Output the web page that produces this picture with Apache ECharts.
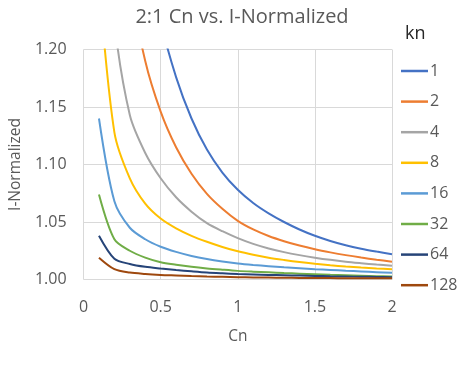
<!DOCTYPE html>
<html>
<head>
<meta charset="utf-8">
<script src="https://cdn.jsdelivr.net/npm/echarts@6/dist/echarts.min.js"></script>
<style>
html,body{margin:0;padding:0;background:#fff;}
#chart{width:462px;height:366px;}
</style>
</head>
<body>
<div id="chart"></div>
<script>
var cn = [0.1,0.2,0.3,0.4,0.5,0.6,0.7,0.8,0.9,1.0,1.1,1.2,1.3,1.4,1.5,1.6,1.7,1.8,1.9,2.0];
var seriesNames = ['1','2','4','8','16','32','64','128'];
var k1   = [2.10,1.62,1.42,1.30,1.225,1.176,1.140,1.113,1.093,1.078,1.0665,1.0575,1.050,1.0435,1.038,1.0335,1.0298,1.0268,1.0243,1.022];
var k2   = [1.70,1.40,1.26,1.19,1.146,1.115,1.092,1.0745,1.0615,1.051,1.0435,1.0378,1.0333,1.0295,1.0263,1.0236,1.0212,1.0191,1.0172,1.0155];
var k4   = [1.40,1.225,1.143,1.110,1.088,1.0715,1.059,1.049,1.042,1.036,1.031,1.027,1.0238,1.0212,1.019,1.0171,1.0155,1.0142,1.013,1.012];
var k8   = [1.26,1.128,1.088,1.066,1.053,1.0445,1.038,1.0328,1.0283,1.0245,1.0215,1.019,1.017,1.0152,1.0137,1.0124,1.0113,1.0104,1.0096,1.0089];
var k16  = [1.140,1.068,1.045,1.035,1.0285,1.024,1.0205,1.0178,1.0157,1.014,1.0127,1.0116,1.0106,1.0098,1.009,1.0083,1.0076,1.007,1.0064,1.0058];
var k32  = [1.074,1.035,1.025,1.019,1.015,1.0128,1.011,1.0096,1.0085,1.0075,1.0068,1.0062,1.0056,1.0051,1.0046,1.0041,1.0037,1.0033,1.0029,1.0026];
var k64  = [1.038,1.018,1.0135,1.011,1.0095,1.0082,1.0071,1.0061,1.0054,1.0048,1.0044,1.004,1.0037,1.0034,1.0031,1.0028,1.0026,1.0024,1.0022,1.002];
var k128 = [1.019,1.009,1.006,1.0048,1.004,1.0035,1.003,1.0026,1.0023,1.002,1.0018,1.0017,1.0015,1.0014,1.0013,1.0012,1.0011,1.0011,1.001,1.001];
var allValues = [k1,k2,k4,k8,k16,k32,k64,k128];
var colors = ['#4472C4','#ED7D31','#A5A5A5','#FFC000','#5B9BD5','#70AD47','#264478','#9E480E'];
var xTicks = [0,0.5,1,1.5,2];

var FONT = 'Open Sans';
var TXT = '#595959';

var series = seriesNames.map(function(name, i){
  return {
    name: name,
    type: 'line',
    data: cn.map(function(x, j){ return [x, allValues[i][j]]; }),
    symbol: 'none',
    showSymbol: false,
    smooth: 0.3,
    clip: true,
    lineStyle: {width: 2, color: colors[i]},
    itemStyle: {color: colors[i]}
  };
});

var chart = echarts.init(document.getElementById('chart'), null, {renderer:'canvas'});
chart.setOption({
  animation: false,
  backgroundColor: '#fff',
  color: colors,
  title: {
    text: '2:1 Cn vs. I-Normalized',
    left: 237, top: 2, textAlign: 'center',
    textStyle: {fontFamily: FONT, fontSize: 20, fontWeight: 'normal', color: TXT}
  },
  graphic: [{
    type: 'text', left: 405, top: 25,
    style: {text: 'kn', font: '18px "' + FONT + '"', fill: '#262626'}
  }],
  legend: {
    orient: 'vertical',
    left: 396, top: 57,
    icon: 'rect',
    itemWidth: 27, itemHeight: 2.5, itemGap: 12.6,
    data: seriesNames,
    textStyle: {fontFamily: FONT, fontSize: 16, color: TXT, padding: [0,0,0,-3], lineHeight: 18}
  },
  grid: {left: 81, right: 70, top: 49.5, bottom: 86.5, containLabel: false},
  xAxis: {
    type: 'value', min: 0, max: 2, interval: 0.5,
    name: 'Cn', nameLocation: 'middle', nameGap: 49,
    nameTextStyle: {fontFamily: FONT, fontSize: 15.5, color: TXT},
    axisLine: {show: false}, axisTick: {show: false},
    axisLabel: {margin: 20, fontFamily: FONT, fontSize: 16, color: TXT,
      formatter: function(v){ return String(v); }},
    splitLine: {show: true, lineStyle: {color: '#d9d9d9', width: 1}}
  },
  yAxis: {
    type: 'value', min: 1, max: 1.2, interval: 0.05,
    name: 'I-Normalized', nameLocation: 'middle', nameGap: 58, nameRotate: 90,
    nameTextStyle: {fontFamily: FONT, fontSize: 15.5, color: TXT},
    axisLine: {show: false}, axisTick: {show: false},
    axisLabel: {margin: 17, fontFamily: FONT, fontSize: 16, color: TXT,
      formatter: function(v){ return v.toFixed(2); }},
    splitLine: {show: true, lineStyle: {color: '#d9d9d9', width: 1}}
  },
  series: series
});
</script>
</body>
</html>
